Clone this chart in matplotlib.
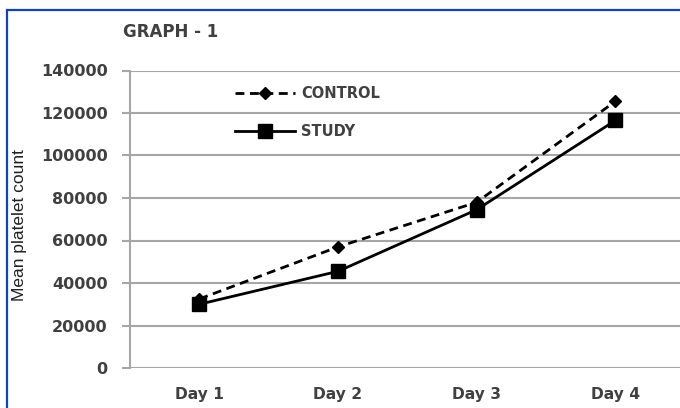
import matplotlib
matplotlib.use("Agg")
import matplotlib.pyplot as plt
from matplotlib.patches import Rectangle

days = ["Day 1", "Day 2", "Day 3", "Day 4"]
control = [32500, 57000, 78000, 125500]
study = [30000, 45500, 74500, 116500]
yticks = [0, 20000, 40000, 60000, 80000, 100000, 120000, 140000]

W, H = 680, 408
fig = plt.figure(figsize=(W / 100, H / 100), dpi=100)
fig.patch.set_facecolor("white")

# axes placed in pixel terms
left_px, right_px, top_px, bottom_px = 130, 680, 70.5, 368
ax = fig.add_axes([left_px / W, 1 - bottom_px / H, (right_px - left_px) / W, (bottom_px - top_px) / H])

grid_c = "#a6a6a6"
ax.plot(days, control, color="black", linestyle=(0, (3.2, 2.0)), linewidth=2.0,
        marker="D", markersize=6, label="CONTROL", zorder=3)
ax.plot(days, study, color="black", linestyle="-", linewidth=2.0,
        marker="s", markersize=9.5, label="STUDY", zorder=3)

ax.set_ylim(0, 140000)
ax.set_xlim(-0.5, 3.466)
ax.set_yticks(yticks)
ax.set_yticklabels([str(v) for v in yticks])
ax.grid(axis="y", color=grid_c, linewidth=1.5)
ax.set_axisbelow(True)
for s in ["top", "right", "bottom"]:
    ax.spines[s].set_visible(False)
ax.spines["left"].set_color(grid_c)
ax.spines["left"].set_linewidth(1.5)
ax.tick_params(axis="y", length=6, width=1.5, color=grid_c, pad=10,
               labelsize=11.5, labelcolor="#404040")
ax.tick_params(axis="x", length=0, pad=14, labelsize=11.2, labelcolor="#404040")
for lab in ax.get_yticklabels() + ax.get_xticklabels():
    lab.set_fontweight("bold")

leg = ax.legend(loc="upper left", bbox_to_anchor=((235 - left_px) / (right_px - left_px), 1 - (86 - top_px) / (bottom_px - top_px)),
                frameon=False, fontsize=10.5, handlelength=4.1, handletextpad=0.45,
                labelspacing=1.55, borderaxespad=0, borderpad=0)
for t in leg.get_texts():
    t.set_fontweight("bold")
    t.set_color("#404040")

fig.text(123 / W, 1 - 32 / H, "GRAPH - 1", fontsize=12, fontweight="bold",
         color="#404040", ha="left", va="center")
fig.text(20 / W, 1 - 225 / H, "Mean platelet count", rotation=90, fontsize=12.5,
         family=["Liberation Sans Narrow", "Liberation Sans", "DejaVu Sans"],
         color="#202020", ha="center", va="center")

# blue frame
fig.patches.append(Rectangle((7 / W, -0.2), 1.5, 1 - 10 / H + 0.2, transform=fig.transFigure,
                             fill=False, edgecolor="#1040d0", linewidth=1.6, clip_on=False))

fig.savefig("out.png", dpi=100)
